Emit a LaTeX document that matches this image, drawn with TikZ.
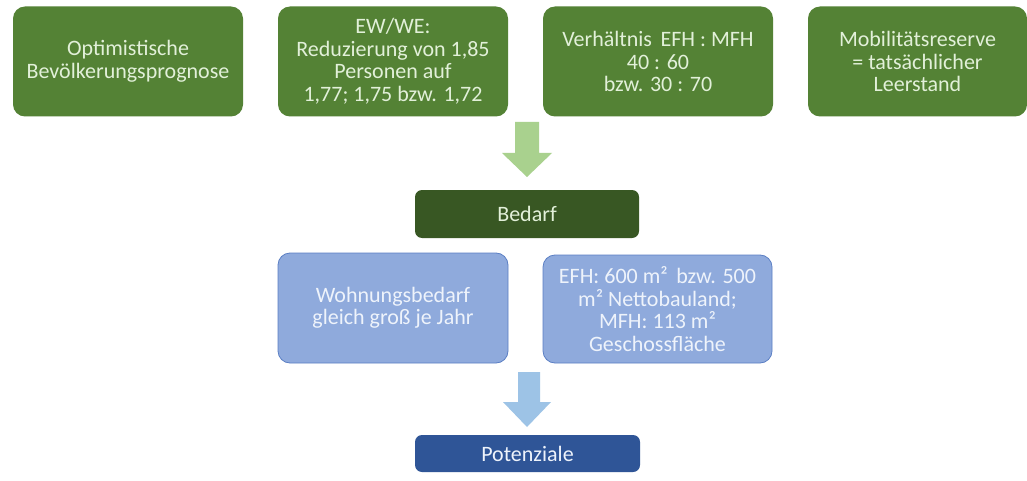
\documentclass[tikz,border=0pt]{standalone}
\usepackage{fontspec}
\setmainfont{Carlito}
\definecolor{gbox}{HTML}{548235}
\definecolor{gtext}{HTML}{E2F0D9}
\definecolor{gdark}{HTML}{385723}
\definecolor{garrow}{HTML}{A9D18E}
\definecolor{bbox}{HTML}{8FAADC}
\definecolor{bline}{HTML}{5B7FC4}
\definecolor{btext}{HTML}{EEF3FB}
\definecolor{barrow}{HTML}{9DC3E6}
\definecolor{bdark}{HTML}{2F5597}
\begin{document}
\begin{tikzpicture}[x=1pt,y=-1pt,
  base/.style={rounded corners=12pt, align=center, inner sep=2pt,
    font=\fontsize{22}{22.5}\selectfont},
  topbox/.style={base, fill=gbox, text=gtext, minimum width=230pt, minimum height=110pt},
  bluebox/.style={base, fill=bbox, draw=bline, line width=0.8pt, text=btext, minimum width=230pt, minimum height=110pt},
  bedarfbox/.style={base, rounded corners=7pt, fill=gdark, text=gtext, minimum width=224pt, minimum height=48pt},
  potbox/.style={base, rounded corners=7pt, fill=bdark, text=btext, minimum width=225pt, minimum height=37pt}]
\useasboundingbox (0,0) rectangle (1027,481);
\fill[white] (0,0) rectangle (1027,481);
\node[topbox] (a) at (128,61.5) {Optimistische\\Bevölkerungsprognose};
\node[topbox] (b) at (393,61.5) {EW/WE:\\Reduzierung von 1,85\\Personen auf\\1,77; 1,75 bzw. 1,72};
\node[topbox] (c) at (658,61.5) {Verhältnis \,EFH : MFH\\40 : 60\\bzw. 30 : 70};
\node[topbox, minimum width=219pt] (d) at (917.5,61.5) {Mobilitätsreserve\\= tatsächlicher\\Leerstand};
\node[bedarfbox] (bed) at (527,214) {Bedarf};
\node[bluebox] (e) at (393,308) {Wohnungsbedarf\\gleich groß je Jahr};
\node[bluebox, minimum width=229pt, minimum height=108pt] (f) at (657.5,309) {EFH: 600 m²\, bzw. 500\\m² Nettobauland;\\MFH: 113 m²\\Geschossfläche};
\node[potbox] (pot) at (527.5,453.5) {Potenziale};
\fill[garrow] (515,122) -- (539,122) -- (539,153) -- (552,153) -- (527,177) -- (502,153) -- (515,153) -- cycle;
\fill[barrow] (518,372) -- (540,372) -- (540,402) -- (551,402) -- (527,427) -- (503,402) -- (518,402) -- cycle;
\end{tikzpicture}
\end{document}
